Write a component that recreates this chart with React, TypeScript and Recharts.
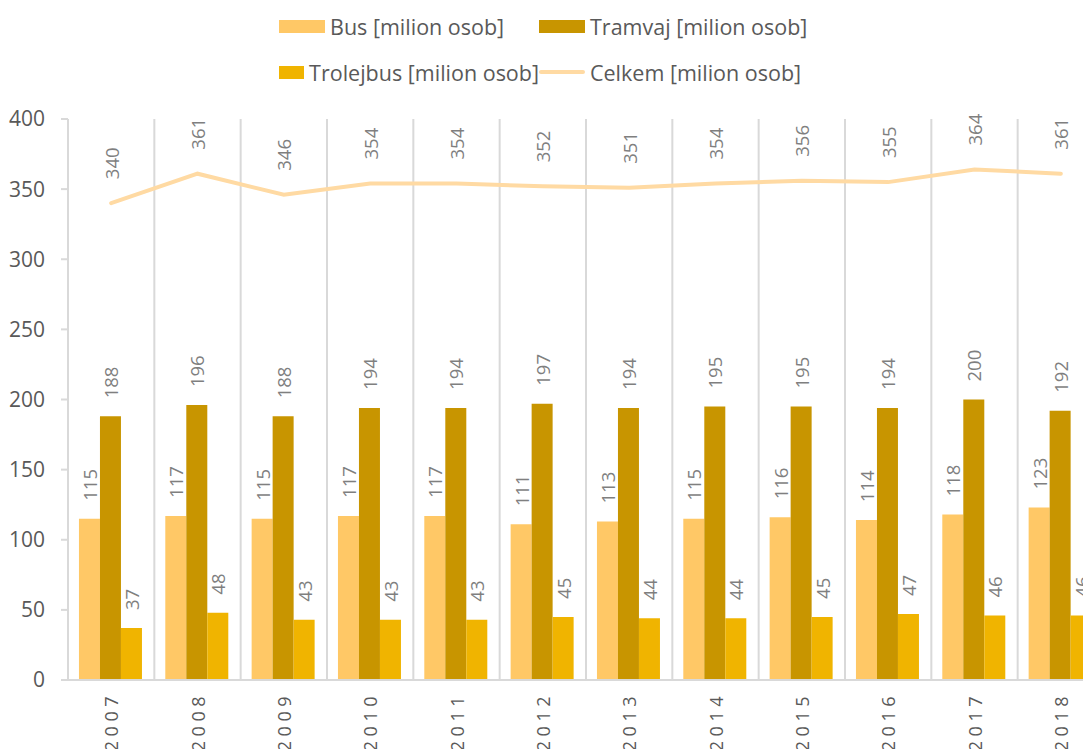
import React from 'react'
import { ComposedChart, Bar, Line, XAxis, YAxis, CartesianGrid, LabelList } from 'recharts'

const years = ['2007', '2008', '2009', '2010', '2011', '2012', '2013', '2014', '2015', '2016', '2017', '2018']
const bus = [115, 117, 115, 117, 117, 111, 113, 115, 116, 114, 118, 123]
const tramvaj = [188, 196, 188, 194, 194, 197, 194, 195, 195, 194, 200, 192]
const trolejbus = [37, 48, 43, 43, 43, 45, 44, 44, 45, 47, 46, 46]
const celkem = [340, 361, 346, 354, 354, 352, 351, 354, 356, 355, 364, 361]
const yTicks = [0, 50, 100, 150, 200, 250, 300, 350, 400]

const seriesNames = {
  bus: 'Bus [milion osob]',
  tramvaj: 'Tramvaj [milion osob]',
  trolejbus: 'Trolejbus [milion osob]',
  celkem: 'Celkem [milion osob]',
}

const colors = {
  bus: '#FFC866',
  tramvaj: '#C89500',
  trolejbus: '#F0B400',
  celkem: '#FFDAA3',
}

const data = years.map((year, i) => ({
  year,
  bus: bus[i],
  tramvaj: tramvaj[i],
  trolejbus: trolejbus[i],
  celkem: celkem[i],
}))

const FONT = '"Open Sans", sans-serif'

const rotatedLabel = (gap: number) => (props: any) => {
  const { x, y, width, value } = props
  const cx = Number(x) + (Number(width) || 0) / 2
  const ty = Number(y) - gap
  return (
    <text
      x={cx}
      y={ty}
      transform={`rotate(-90, ${cx}, ${ty})`}
      textAnchor="start"
      dominantBaseline="central"
      fontSize={18.5}
      fontFamily={FONT}
      fill="#7f7f7f"
    >
      {value}
    </text>
  )
}

const YearTick = (props: any) => {
  const { x, y, payload } = props
  const ty = y + 4
  return (
    <text
      x={x}
      y={ty}
      transform={`rotate(-90, ${x}, ${ty})`}
      textAnchor="end"
      dominantBaseline="central"
      fontSize={18}
      letterSpacing={4.5}
      fontFamily={FONT}
      fill="#595959"
    >
      {payload.value}
    </text>
  )
}

function LegendBox() {
  const items = [
    { key: 'bus', type: 'rect' },
    { key: 'tramvaj', type: 'rect' },
    { key: 'trolejbus', type: 'rect' },
    { key: 'celkem', type: 'line' },
  ] as const
  return (
    <div
      style={{
        position: 'absolute',
        left: 279,
        top: 13,
        display: 'grid',
        gridTemplateColumns: '260px auto',
        rowGap: 20,
        fontFamily: FONT,
        fontSize: 21.5,
        color: '#595959',
      }}
    >
      {items.map((it) => (
        <div key={it.key} style={{ display: 'flex', alignItems: 'center', height: 26, whiteSpace: 'nowrap' }}>
          {it.type === 'rect' ? (
            <span style={{ width: 46, height: 13, background: colors[it.key], marginRight: 5 }} />
          ) : (
            <span
              style={{ width: 46, height: 4, borderRadius: 2, background: colors[it.key], marginRight: 5 }}
            />
          )}
          <span>{seriesNames[it.key]}</span>
        </div>
      ))}
    </div>
  )
}

export default function App() {
  return (
    <div
      style={{
        position: 'fixed',
        left: 0,
        top: 0,
        width: 1083,
        height: 749,
        overflow: 'hidden',
        background: '#fff',
      }}
    >
      <LegendBox />
      <ComposedChart
        width={1110}
        height={770}
        data={data}
        margin={{ top: 119, right: 6, left: 0, bottom: 10 }}
        barCategoryGap="12.7%"
        barGap={0}
      >
        <CartesianGrid
          horizontal={false}
          stroke="#d9d9d9"
          strokeWidth={2}
          verticalCoordinatesGenerator={({ offset }: any) =>
            Array.from({ length: years.length + 1 }, (_, i) => offset.left + (i * offset.width) / years.length)
          }
        />
        <XAxis
          dataKey="year"
          height={80}
          axisLine={{ stroke: '#d9d9d9', strokeWidth: 2 }}
          tickLine={false}
          tick={<YearTick />}
          interval={0}
        />
        <YAxis
          width={68}
          domain={[0, 400]}
          ticks={yTicks}
          axisLine={{ stroke: '#d9d9d9', strokeWidth: 2 }}
          tickLine={{ stroke: '#d9d9d9', strokeWidth: 2 }}
          tickSize={7}
          tickMargin={16}
          tick={{ fontSize: 21, fill: '#595959', fontFamily: FONT }}
        />
        <Bar dataKey="bus" name={seriesNames.bus} fill={colors.bus} isAnimationActive={false}>
          <LabelList dataKey="bus" content={rotatedLabel(18)} />
        </Bar>
        <Bar dataKey="tramvaj" name={seriesNames.tramvaj} fill={colors.tramvaj} isAnimationActive={false}>
          <LabelList dataKey="tramvaj" content={rotatedLabel(18)} />
        </Bar>
        <Bar dataKey="trolejbus" name={seriesNames.trolejbus} fill={colors.trolejbus} isAnimationActive={false}>
          <LabelList dataKey="trolejbus" content={rotatedLabel(18)} />
        </Bar>
        <Line
          dataKey="celkem"
          name={seriesNames.celkem}
          type="linear"
          stroke={colors.celkem}
          strokeWidth={4}
          strokeLinecap="round"
          dot={false}
          activeDot={false}
          isAnimationActive={false}
        >
          <LabelList dataKey="celkem" content={rotatedLabel(24)} />
        </Line>
      </ComposedChart>
    </div>
  )
}
